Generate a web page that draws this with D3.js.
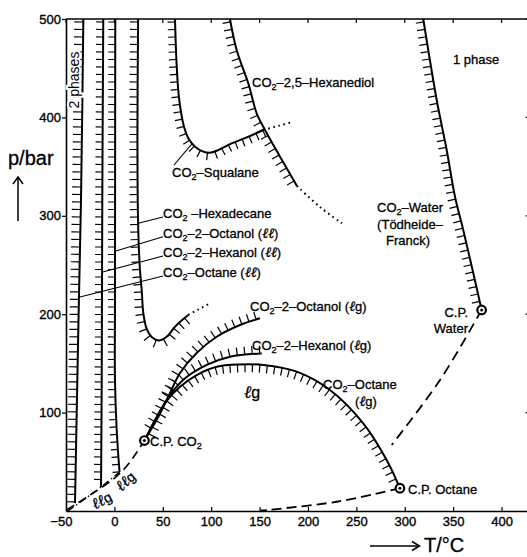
<!DOCTYPE html>
<html>
<head>
<meta charset="utf-8">
<script src="https://cdn.jsdelivr.net/npm/d3@7"></script>
<style>
  html, body { margin: 0; padding: 0; background: #fff; }
  svg { display: block; font-family: "Liberation Sans", Arial, sans-serif; }
</style>
</head>
<body>
<svg id="chart" width="527" height="557"></svg>
<script>
// ---- axis ticks ----
const xTicks = [-50, 0, 50, 100, 150, 200, 250, 300, 350, 400];
const yTicks = [100, 200, 300, 400, 500];

// ---- critical curves and phase boundaries, [T / °C, p / bar] ----
// liquid-liquid branches (drawn top to bottom)
const octaneLL   = [[-32.1, 500], [-34.5, 316], [-36.6, 217.5], [-38.3, 133], [-40.7, 8]];
const hexanolLL  = [[-11.5, 500], [-12.5, 316], [-13.1, 133], [-13.8, 24.4]];
const octanolLL  = [[0.9, 500], [0.6, 214], [0.6, 133], [2.4, 82], [5.3, 39.6]];
const hexadecane = [[24.5, 500], [23.8, 380], [24.5, 292], [26.4, 245], [28.2, 224.6], [29.9, 200.9],
                    [33.4, 185], [38.5, 176.8], [46.1, 173.3], [54, 177], [62.6, 187.3], [76.3, 199.2]];
const hexadecaneExt = [[76.3, 199.2], [87, 205], [98.8, 211]];
const squalane   = [[62.6, 500], [64.4, 451.5], [67, 417.7], [71.9, 390.6], [76.4, 378.8], [83.3, 370.2],
                    [91.8, 365.2], [98.8, 364.1], [107.3, 366.8], [119.4, 372.9], [136.7, 379.7], [153.8, 387.2]];
const squalaneExt = [[153.8, 387.2], [170, 391.5], [184.8, 395.6]];
const hexanediol = [[119.4, 500], [126.3, 468.5], [138.3, 434.7], [147, 404.2], [155.6, 387.2],
                    [171.1, 360.1], [188.6, 330.3]];
const hexanediolExt = [[188.6, 330.3], [212.4, 308.9], [235.1, 292.4]];
const water      = [[319.1, 500], [333, 417.7], [343.3, 366.9], [351.9, 319.4], [360.4, 285.6],
                    [370.8, 241.6], [379.4, 204.3]];
const waterCritical = [[379.4, 204.3], [336.4, 133.1], [286.5, 67.1]];

// liquid-gas critical curves (from the CO2 critical point)
const octanolLG = [[31, 71.6], [45.4, 95.8], [55.7, 116.2], [67.8, 140.2], [85, 160.6],
                   [105.7, 177.1], [129.8, 189], [150.4, 195.8]];
const hexanolLG = [[31, 71.6], [54, 112.8], [70.9, 133.1], [95.4, 148.4], [119.4, 156.8], [152.2, 160]];
const octaneLG  = [[31, 71.6], [54, 111.8], [67.8, 126.3], [85, 138.2], [105.7, 146.6], [129.8, 148.9],
                   [153.8, 148.4], [188.3, 141.6], [222.7, 123], [257.1, 89.1], [281.3, 51.8], [295, 23.1]];

// vapour pressure curves and three-phase lines
const co2Vapour    = [[-49.3, 1], [-30.4, 12.9], [-20, 19.6], [-4.5, 29.8], [9.2, 41.7], [22, 58], [31, 71.6]];
const octaneVapour = [[295, 23.1], [229.6, 9.4], [150.4, 0.3]];
const llgLine      = [[-48, 0], [-13.8, 24.4], [5.3, 39.6]];

// critical points of the pure components
const criticalPoints = [[31, 71.6], [295, 23.1], [379.4, 204.3]];

// ---- layout ----
const svg = d3.select("#chart");
const x = d3.scaleLinear().domain([-50, 430]).range([66, 530.6]);
const y = d3.scaleLinear().domain([0, 500]).range([511, 19]);

const line = d3.line().x(d => x(d[0])).y(d => y(d[1])).curve(d3.curveCatmullRom.alpha(0.5));

// frame
const frame = svg.append("g").attr("stroke", "#000").attr("fill", "none");
frame.append("line").attr("x1", x(-50)).attr("x2", x(430)).attr("y1", y(500)).attr("y2", y(500)).attr("stroke-width", 1.6);
frame.append("line").attr("x1", x(430)).attr("x2", x(430)).attr("y1", y(500)).attr("y2", y(0)).attr("stroke-width", 1.6);
xTicks.forEach(t => frame.append("line").attr("x1", x(t)).attr("x2", x(t))
  .attr("y1", y(500)).attr("y2", y(500) + 4).attr("stroke-width", 1.2));
yTicks.forEach(t => frame.append("line").attr("x1", x(430) - 5).attr("x2", x(430))
  .attr("y1", y(t)).attr("y2", y(t)).attr("stroke-width", 1.2));

// axes
const xAxis = svg.append("g").attr("transform", `translate(0,${y(0)})`)
  .call(d3.axisBottom(x).tickValues(xTicks).tickSize(-4).tickSizeOuter(0).tickPadding(6)
    .tickFormat(d => d < 0 ? "\u2212" + Math.abs(d) : d));
const yAxis = svg.append("g").attr("transform", `translate(${x(-50)},0)`)
  .call(d3.axisLeft(y).tickValues(yTicks).tickSize(4).tickSizeOuter(0).tickPadding(1));
[xAxis, yAxis].forEach(g => {
  g.select(".domain").attr("stroke-width", 1.6);
  g.selectAll(".tick line").attr("stroke-width", 1.2);
  g.selectAll("text").attr("font-size", 13).attr("font-family", "Liberation Sans, Arial, sans-serif")
    .attr("fill", "#000").attr("stroke", "#000").attr("stroke-width", 0.35);
});
xAxis.selectAll(".tick text").filter(d => d < 0).attr("dx", -5);

// ---- curves with hatching on the two-phase side ----
const curves = svg.append("g").attr("fill", "none").attr("stroke", "#000");

function hatch(node, side, opt) {
  const L = node.getTotalLength();
  const sp = opt.spacing || 7.5, len = opt.len || 8;
  const s0 = opt.start == null ? 3 : opt.start, s1 = opt.end || 0;
  for (let s = s0; s <= L - s1; s += sp) {
    const a = node.getPointAtLength(Math.max(0, s - 0.6));
    const b = node.getPointAtLength(Math.min(L, s + 0.6));
    const dx = b.x - a.x, dy = b.y - a.y, n = Math.hypot(dx, dy) || 1;
    const nx = -dy / n * side, ny = dx / n * side;
    const p = node.getPointAtLength(s);
    curves.append("line").attr("x1", p.x).attr("y1", p.y)
      .attr("x2", p.x + nx * len).attr("y2", p.y + ny * len).attr("stroke-width", 1.2);
  }
}

function boundary(data, side, opt = {}) {
  const path = curves.append("path").attr("d", line(data)).attr("stroke-width", 2);
  hatch(path.node(), side, opt);
  return path;
}

function dotted(data) {
  curves.append("path").attr("d", line(data)).attr("stroke-width", 2)
    .attr("stroke-dasharray", "1.6,3.6").attr("stroke-linecap", "butt");
}

function dashed(data, pattern, w) {
  curves.append("path").attr("d", line(data)).attr("stroke-width", w || 1.8)
    .attr("stroke-dasharray", pattern);
}

boundary(octaneLL, 1, { len: 9 });
boundary(hexanolLL, 1, { len: 7 });
boundary(octanolLL, 1, { len: 7 });
boundary(hexadecane, 1, { len: 8 });
dotted(hexadecaneExt);
boundary(squalane, 1, { len: 7.5 });
dotted(squalaneExt);
boundary(hexanediol, 1, { len: 8 });
dotted(hexanediolExt);
boundary(water, 1, { len: 8, end: 6 });

boundary(octanolLG, -1, { len: 8, start: 14 });
boundary(hexanolLG, -1, { len: 8, start: 50 });
boundary(octaneLG, 1, { len: 8, start: 8, end: 8 });

dashed(waterCritical, "10,6", 1.8);
dashed(octaneVapour, "10,5", 1.8);
dashed(co2Vapour, "9,5", 1.6);
dashed(llgLine, "7,3,1.5,3", 1.3);

// critical point markers
const cp = svg.append("g");
criticalPoints.forEach(d => {
  cp.append("circle").attr("cx", x(d[0])).attr("cy", y(d[1])).attr("r", 4.3)
    .attr("fill", "#fff").attr("stroke", "#000").attr("stroke-width", 2.2);
  cp.append("circle").attr("cx", x(d[0])).attr("cy", y(d[1])).attr("r", 1.5).attr("fill", "#000");
});

// ---- labels ----
const labels = svg.append("g").attr("fill", "#000").attr("font-size", 13)
  .attr("stroke", "#000").attr("stroke-width", 0.3);

// "_2" marks a subscript 2; runs of ℓ are set in a slanted script-like face
function label(px, py, str, o = {}) {
  const size = o.size || 13;
  const t = labels.append("text").attr("x", px).attr("y", py)
    .attr("text-anchor", o.anchor || "start").attr("font-size", size);
  if (o.rotate != null) t.attr("transform", `rotate(${o.rotate},${px},${py})`);
  if (o.halo) t.attr("stroke", "#fff").attr("stroke-width", 4).attr("paint-order", "stroke");
  let lowered = false;
  str.split(/(_2|\u2113+)/).filter(s => s.length).forEach(seg => {
    if (seg === "_2") {
      t.append("tspan").attr("dy", 3).attr("font-size", size * 0.7).text("2");
      lowered = true;
      return;
    }
    const ts = t.append("tspan").text(seg);
    if (lowered) { ts.attr("dy", -3); lowered = false; }
    if (/^\u2113+$/.test(seg)) {
      ts.attr("font-family", "DejaVu Serif, serif").attr("font-style", "italic")
        .attr("font-size", size * 1.1);
    }
  });
  return t;
}

// leaders from the liquid-liquid branches to their names
const leaderAnchors = [[24.7, 292.4], [0.6, 263.9], [-13.1, 242.6], [-36.6, 217.2]];
const leaderTexts = ["CO_2 \u2013Hexadecane", "CO_2\u20132\u2013Octanol (\u2113\u2113)",
                     "CO_2\u20132\u2013Hexanol (\u2113\u2113)", "CO_2\u2013Octane (\u2113\u2113)"];
const leaderEndY = [217, 236.7, 256, 276];
leaderAnchors.forEach((d, i) => {
  curves.append("line").attr("x1", x(d[0])).attr("y1", y(d[1]))
    .attr("x2", 163).attr("y2", leaderEndY[i]).attr("stroke-width", 1.1);
  label(163, leaderEndY[i] + 1, leaderTexts[i]);
});
// squalane leader
curves.append("line").attr("x1", 174).attr("y1", 165).attr("x2", x(80)).attr("y2", y(373)).attr("stroke-width", 1.1);

label(74, 80, "2 phases", { size: 14, rotate: -90, anchor: "middle", halo: true }).attr("dy", 5);
label(453, 64, "1 phase");
label(252, 87, "CO_2\u20132,5\u2013Hexanediol");
label(172, 177, "CO_2\u2013Squalane");
label(410, 212, "CO_2\u2013Water", { anchor: "middle" });
label(410, 228.5, "(T\u00f6dheide\u2013", { anchor: "middle" });
label(408, 244.5, "Franck)", { anchor: "middle" });
label(468, 317, "C.P.", { anchor: "end" });
label(468, 332.5, "Water", { anchor: "end" });
label(250, 311, "CO_2\u20132\u2013Octanol (\u2113g)");
label(252, 350, "CO_2\u20132\u2013Hexanol (\u2113g)");
label(323, 389, "CO_2\u2013Octane");
label(355, 406, "(\u2113g)");
label(252, 398, "\u2113g", { size: 16, anchor: "middle" });
label(150, 446, "C.P. CO_2");
label(408, 494, "C.P. Octane");
label(104, 505, "\u2113\u2113g", { size: 14, rotate: -28, anchor: "middle" });
label(129, 485, "\u2113\u2113g", { size: 14, rotate: -42, anchor: "middle" });

// axis titles with arrows
label(8, 165, "p/bar", { size: 20 });
label(424, 552, "T/\u00b0C", { size: 20 });
const arrows = svg.append("g").attr("stroke", "#000").attr("fill", "none").attr("stroke-width", 1.5);
arrows.append("line").attr("x1", 18).attr("y1", 221).attr("x2", 18).attr("y2", 177);
arrows.append("path").attr("d", "M13,184 L18,177 L23,184");
arrows.append("line").attr("x1", 370).attr("y1", 546).attr("x2", 419).attr("y2", 546);
arrows.append("path").attr("d", "M412,541.5 L419.5,546 L412,550.5");
</script>
</body>
</html>
